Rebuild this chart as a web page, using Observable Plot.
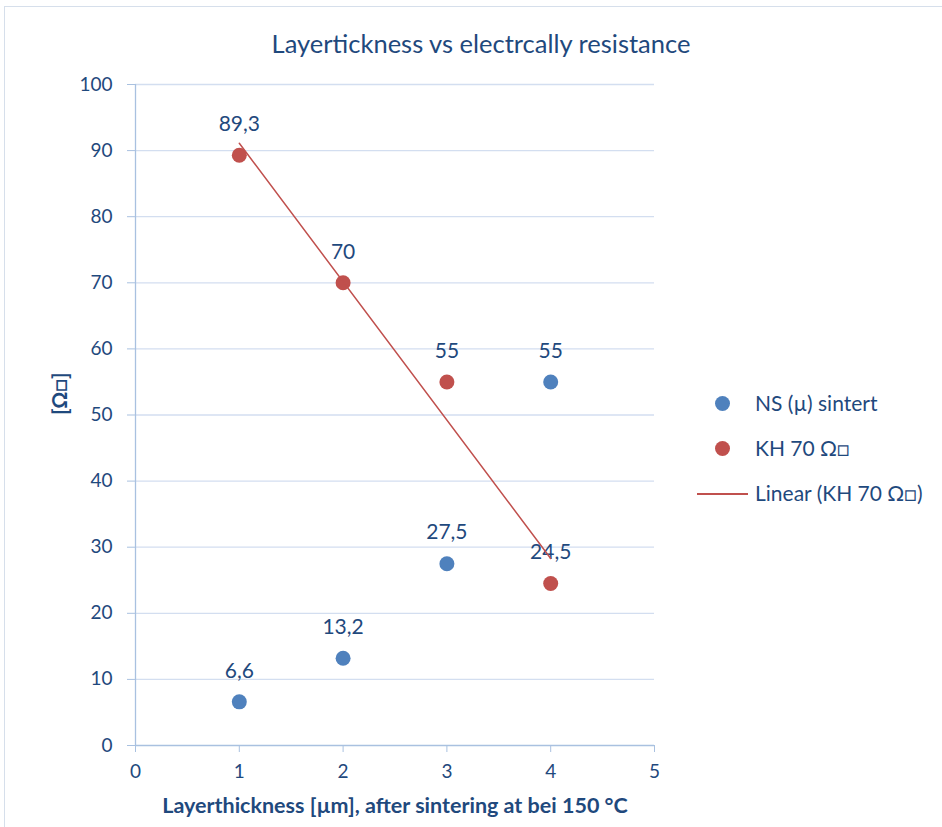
<!DOCTYPE html>
<html>
<head>
<meta charset="utf-8">
<script src="https://cdn.jsdelivr.net/npm/d3@7"></script>
<script src="https://cdn.jsdelivr.net/npm/@observablehq/plot@0.6"></script>
<style>
  html, body { margin: 0; padding: 0; background: #fff; }
  #wrap { position: relative; width: 942px; height: 827px; overflow: hidden; font-family: Lato, "Open Sans", sans-serif; color: #1f497d; }
  #frame { position: absolute; left: 4px; top: 6px; width: 960px; height: 840px; border: 1px solid #d6dfeb; box-sizing: border-box; }
  #title { position: absolute; left: 181px; width: 600px; top: 28px; text-align: center; font-size: 25.5px; }
  #legend { position: absolute; left: 697px; top: 389px; font-size: 21px; }
  .li { position: relative; height: 45px; line-height: 28px; padding-left: 58px; }
  .dot { position: absolute; left: 18px; top: 7px; width: 15px; height: 15px; border-radius: 50%; }
  .ln { position: absolute; left: 0; top: 14px; width: 51px; height: 0; border-top: 2px solid #c0504d; }
  svg { position: absolute; left: 0; top: 0; }
</style>
</head>
<body>
<div id="wrap">
  <div id="frame"></div>
  <div id="plot"></div>
  <div id="title"></div>
  <div id="legend"></div>
</div>
<script>
const title = "Layertickness vs electrcally resistance";
const xLabel = "Layerthickness [µm], after sintering at bei 150 °C";
const yLabel = "[Ω□]";
const thickness = [1, 2, 3, 4];
const nsValues = [6.6, 13.2, 27.5, 55];
const khValues = [89.3, 70, 55, 24.5];
const seriesNames = ["NS (µ) sintert", "KH 70 Ω□", "Linear (KH 70 Ω□)"];
const seriesColors = ["#4f81bd", "#c0504d"];
const xTicks = [0, 1, 2, 3, 4, 5];
const yTicks = [0, 10, 20, 30, 40, 50, 60, 70, 80, 90, 100];

const textColor = "#1f497d";
const fmt = v => String(v).replace(".", ",");

const ns = thickness.map((x, i) => ({x, y: nsValues[i], s: seriesNames[0]}));
const kh = thickness.map((x, i) => ({x, y: khValues[i], s: seriesNames[1]}));

const chart = Plot.plot({
  width: 942,
  height: 827,
  marginLeft: 135,
  marginRight: 288,
  marginTop: 84,
  marginBottom: 82,
  style: {fontFamily: "Lato, 'Open Sans', sans-serif", color: textColor, background: "transparent", overflow: "visible"},
  x: {domain: [0, 5]},
  y: {domain: [0, 100]},
  marks: [
    Plot.gridY(yTicks.filter(d => d > 0), {stroke: "#d3def0", strokeOpacity: 1, strokeWidth: 1.3}),
    Plot.ruleX([0], {stroke: "#a9c1e0", strokeWidth: 1.3}),
    Plot.ruleY([0], {stroke: "#a9c1e0", strokeWidth: 1.3}),
    Plot.axisX({ticks: xTicks, tickSize: 7, tickPadding: 12, stroke: "#a9c1e0", fill: textColor, fontSize: 19, label: null, tickFormat: d => d}),
    Plot.axisY({ticks: yTicks, tickSize: 8, tickPadding: 15, stroke: "#a9c1e0", fill: textColor, fontSize: 19, label: null, tickFormat: d => d}),
    Plot.dot(ns, {x: "x", y: "y", r: 7.5, fill: seriesColors[0]}),
    Plot.dot(kh, {x: "x", y: "y", r: 7.5, fill: seriesColors[1]}),
    Plot.text(ns, {x: "x", y: "y", text: d => fmt(d.y), dy: -31, fontSize: 21, fill: textColor}),
    Plot.text(kh, {x: "x", y: "y", text: d => fmt(d.y), dy: -31, fontSize: 21, fill: textColor}),
    Plot.linearRegressionY(kh, {x: "x", y: "y", stroke: seriesColors[1], strokeWidth: 1.5, ci: 0}),
    Plot.text([xLabel], {frameAnchor: "bottom", dy: 67, fontSize: 21.5, fontWeight: "bold", fill: textColor}),
    Plot.text([yLabel], {frameAnchor: "left", dx: -75, rotate: -90, fontSize: 21, fontWeight: "bold", fill: textColor})
  ]
});
document.getElementById("plot").appendChild(chart);
document.getElementById("title").textContent = title;

const legend = document.getElementById("legend");
seriesNames.forEach((name, i) => {
  const row = document.createElement("div");
  row.className = "li";
  const m = document.createElement("span");
  if (i < 2) { m.className = "dot"; m.style.background = seriesColors[i]; }
  else { m.className = "ln"; }
  row.appendChild(m);
  row.appendChild(document.createTextNode(name));
  legend.appendChild(row);
});
</script>
</body>
</html>
